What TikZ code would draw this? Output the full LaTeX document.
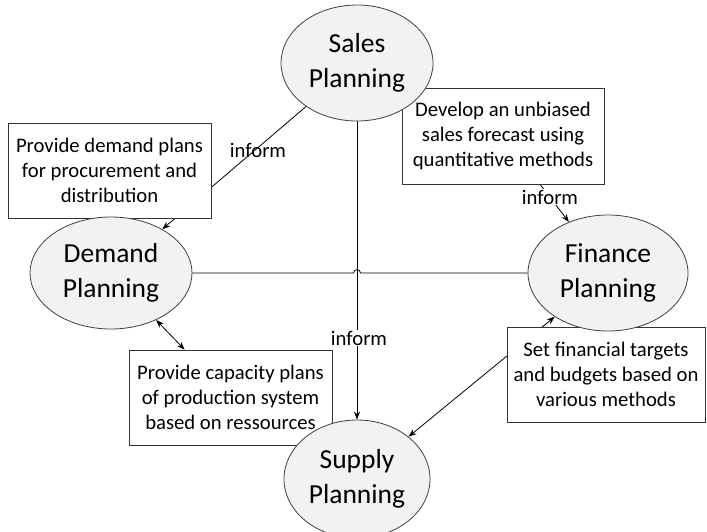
\documentclass[tikz,border=0pt]{standalone}
\usepackage{fontspec}
\setmainfont{Carlito}
\usetikzlibrary{shapes.geometric,arrows.meta,calc}
\pgfdeclarelayer{background}
\pgfsetlayers{background,main}
\begin{document}
\begin{tikzpicture}[x=1pt,y=-1pt,
 plan/.style={ellipse,draw=black!75,fill=black!5,line width=0.8pt,inner sep=0pt,align=center,font=\fontsize{27.5}{35}\selectfont},
 note/.style={rectangle,draw=black!80,fill=white,line width=0.8pt,inner sep=0pt,align=center,minimum width=203pt,minimum height=95pt,font=\fontsize{20.7}{25}\selectfont},
 conn/.style={line width=0.8pt,black},
 tip/.style={-{Stealth[length=8pt,width=6pt]}},
 lbl/.style={font=\fontsize{20.7}{25}\selectfont,inner sep=1pt}]
\useasboundingbox (0,0) rectangle (707,531);
% boxes
\node[note] (prov) at (109.5,170.5) {Provide demand plans\\for procurement and\\distribution};
\node[note,minimum width=202pt,minimum height=96pt] (dev) at (503,136) {Develop an unbiased\\sales forecast using\\quantitative methods};
\node[note] (cap) at (230.5,397.5) {Provide capacity plans\\of production system\\based on ressources};
\node[note,minimum width=198pt] (fin) at (606,374.5) {Set financial targets\\and budgets based on\\various methods};
% ellipses
\node[plan,minimum width=152pt,minimum height=116pt] (sales) at (357,63) {Sales\\Planning};
\node[plan,minimum width=162pt,minimum height=112pt] (demand) at (111,273) {Demand\\Planning};
\node[plan,minimum width=160pt,minimum height=116pt] (finance) at (608,273) {Finance\\Planning};
\node[plan,minimum width=146pt,minimum height=118pt] (supply) at (357,479) {Supply\\Planning};
\coordinate (hop) at (sales |- demand);
% connectors
\begin{pgfonlayer}{background}
\draw[conn,tip] (sales) -- (demand);
\draw[conn,tip] (dev) -- (finance);
\draw[conn,tip] (sales) -- (supply);
\draw[conn,{Stealth[length=8pt,width=6pt]}-{Stealth[length=8pt,width=6pt]}] (demand) -- (cap);
\draw[conn,{Stealth[length=8pt,width=6pt]}-{Stealth[length=8pt,width=6pt]}] (finance) -- (supply);
\draw[conn] (demand.east) -- ($(hop)+(-3.5,0)$) .. controls ($(hop)+(-3.5,-4.5)$) and ($(hop)+(3.5,-4.5)$) .. ($(hop)+(3.5,0)$) -- (finance.west);
\end{pgfonlayer}
% labels
\node[lbl] (l1) at (258,150) {inform};
\node[lbl,fill=white] (l2) at (550,197) {inform};
\node[lbl,fill=white] (l3) at (359,338) {inform};
\end{tikzpicture}
\end{document}
